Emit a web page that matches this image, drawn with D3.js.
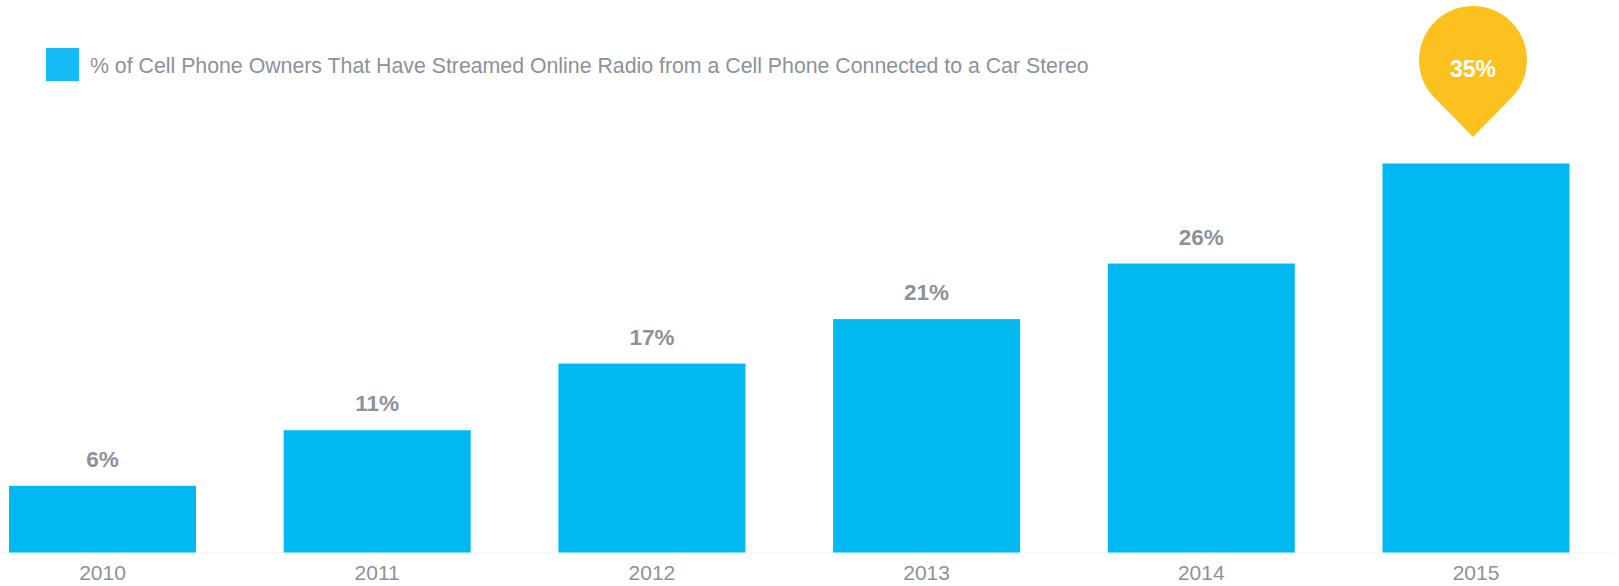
<!DOCTYPE html>
<html>
<head>
<meta charset="utf-8">
<script src="https://cdn.jsdelivr.net/npm/d3@7"></script>
<style>
  html, body { margin: 0; padding: 0; background: #fff; }
  svg { display: block; font-family: "Liberation Sans", Arial, sans-serif; }
</style>
</head>
<body>
<svg id="chart" width="1619" height="586"></svg>
<script>
const years = ["2010", "2011", "2012", "2013", "2014", "2015"];
const shares = [6, 11, 17, 21, 26, 35];
const seriesName = "% of Cell Phone Owners That Have Streamed Online Radio from a Cell Phone Connected to a Car Stereo";
const highlightYear = "2015";

const barColor = "#00b9f1";
const labelColor = "#8b929b";
const pinColor = "#fbc21f";
const fontStack = "'Liberation Sans', Arial, sans-serif";

const svg = d3.select("#chart");

// six bands, 187px bars on a 274.7px step starting at x=9
const x0 = 9, step = 274.7, bw = 187;
const x = d3.scaleBand()
  .domain(years)
  .range([x0, x0 + step * years.length - (step - bw)])
  .paddingInner((step - bw) / step)
  .paddingOuter(0);

const y = d3.scaleLinear().domain([0, 35]).range([552.5, 163.5]);

const rows = years.map((yr, i) => ({ yr, v: shares[i] }));

// baseline
svg.append("line")
  .attr("x1", 0).attr("x2", 1612)
  .attr("y1", y(0) + 0.5).attr("y2", y(0) + 0.5)
  .attr("stroke", "#eef0f2").attr("stroke-width", 1);

// bars
svg.append("g").selectAll("rect")
  .data(rows)
  .join("rect")
  .attr("x", d => x(d.yr))
  .attr("y", d => y(d.v))
  .attr("width", x.bandwidth())
  .attr("height", d => y(0) - y(d.v))
  .attr("fill", barColor);

// value labels above bars (the highlighted year gets a pin instead)
svg.append("g").selectAll("text")
  .data(rows.filter(d => d.yr !== highlightYear))
  .join("text")
  .attr("x", d => x(d.yr) + x.bandwidth() / 2)
  .attr("y", d => y(d.v) - 19)
  .attr("text-anchor", "middle")
  .attr("font-family", fontStack)
  .attr("font-size", 22.5)
  .attr("font-weight", "bold")
  .attr("fill", labelColor)
  .text(d => d.v + "%");

// x axis labels
const xAxis = d3.axisBottom(x).tickSize(0).tickPadding(0);
const gx = svg.append("g").attr("transform", `translate(0,${y(0)})`).call(xAxis);
gx.select(".domain").remove();
gx.attr("font-family", fontStack);
gx.selectAll("text")
  .attr("dy", null)
  .attr("y", 27.5)
  .attr("font-size", 21)
  .attr("fill", labelColor);

// pin marker over the highlighted bar
const hi = years.indexOf(highlightYear);
const cx = x(highlightYear) + x.bandwidth() / 2 - 3;
const r = 54, cy = 60, tipY = 137;
const a = Math.acos(r / (tipY - cy));
const pin = d3.path();
pin.moveTo(cx, tipY);
pin.lineTo(cx - r * Math.sin(a), cy + r * Math.cos(a));
pin.arc(cx, cy, r, Math.PI / 2 + a, Math.PI / 2 - a + 2 * Math.PI, false);
pin.closePath();
svg.append("path").attr("d", pin.toString()).attr("fill", pinColor);
svg.append("text")
  .attr("x", cx).attr("y", 76.5)
  .attr("text-anchor", "middle")
  .attr("font-family", fontStack)
  .attr("font-size", 23)
  .attr("font-weight", "bold")
  .attr("fill", "#fff")
  .text(shares[hi] + "%");

// legend
const lg = svg.append("g");
lg.append("rect").attr("x", 46).attr("y", 48).attr("width", 33).attr("height", 33).attr("fill", "#14bbf5");
lg.append("text")
  .attr("x", 90).attr("y", 72.5)
  .attr("font-family", fontStack)
  .attr("font-size", 21.3)
  .attr("fill", labelColor)
  .text(seriesName);
</script>
</body>
</html>
